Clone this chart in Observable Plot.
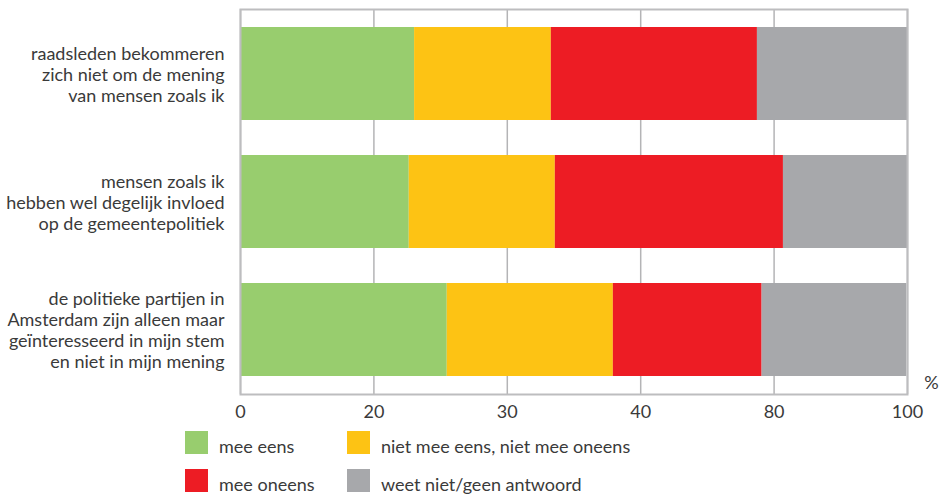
<!DOCTYPE html>
<html>
<head>
<meta charset="utf-8">
<script src="https://cdn.jsdelivr.net/npm/d3@7"></script>
<script src="https://cdn.jsdelivr.net/npm/@observablehq/plot@0.6"></script>
<style>
  body { margin: 0; background: #fff; font-family: Lato, "Open Sans", sans-serif; }
  #wrap { position: relative; width: 939px; height: 496px; }
  #legend { position: absolute; left: 185px; top: 431px; display: grid;
    grid-template-columns: 162px 300px; row-gap: 15px; font-size: 18px; color: #3a3a3a; }
  .item { display: flex; align-items: flex-end; height: 23px; }
  .sw { width: 23px; height: 23px; margin-right: 11px; flex: none; }
  .lab { line-height: 18px; position: relative; top: 1px; }
</style>
</head>
<body>
<div id="wrap"><div id="chart"></div><div id="legend"></div></div>
<script>
const statements = [
  "raadsleden bekommeren\nzich niet om de mening\nvan mensen zoals ik",
  "mensen zoals ik\nhebben wel degelijk invloed\nop de gemeentepolitiek",
  "de politieke partijen in\nAmsterdam zijn alleen maar\ngeïnteresseerd in mijn stem\nen niet in mijn mening"
];
const answers = ["mee eens", "niet mee eens, niet mee oneens", "mee oneens", "weet niet/geen antwoord"];
const colors = ["#98cd6e", "#fdc314", "#ed1c24", "#a7a8ab"];
const meeEens = [26.1, 25.3, 31.0];
const neutraal = [20.5, 21.9, 24.9];
const meeOneens = [30.9, 34.2, 22.3];
const weetNiet = [22.5, 18.6, 21.7];
const tickValues = [0, 20, 40, 60, 80, 100];
const tickLabels = ["0", "20", "30", "40", "80", "100"];

const series = [meeEens, neutraal, meeOneens, weetNiet];
const data = [];
statements.forEach((s, i) => answers.forEach((a, j) => data.push({statement: s, answer: a, value: series[j][i]})));

const chart = Plot.plot({
  width: 939,
  height: 496,
  marginLeft: 240,
  marginRight: 32,
  marginTop: 9,
  marginBottom: 102,
  style: {fontFamily: "Lato, 'Open Sans', sans-serif", fontSize: "18px", color: "#3a3a3a"},
  x: {domain: [0, 100], ticks: tickValues, tickFormat: d => tickLabels[tickValues.indexOf(d)], label: null},
  y: {domain: statements, paddingInner: 0.276, paddingOuter: 0.136, label: null},
  color: {domain: answers, range: colors},
  marks: [
    Plot.ruleX(tickValues, {stroke: "#b4b4b6", strokeWidth: 1.5, strokeOpacity: 1}),
    Plot.barX(data, Plot.stackX({y: "statement", x: "value", fill: "answer", order: answers})),
    Plot.frame({stroke: "#bdbdbf", strokeWidth: 2}),
    Plot.axisX({ticks: tickValues, tickFormat: d => tickLabels[tickValues.indexOf(d)], tickSize: 0, tickPadding: 11, fontSize: 18, label: null}),
    Plot.axisY({tickSize: 0, tickPadding: 16, fontSize: 18, lineHeight: 1.17, label: null}),
    Plot.text(["%"], {frameAnchor: "bottom-right", text: d => d, dx: 24, dy: -6, fontSize: 18, textAnchor: "middle"})
  ]
});
document.getElementById("chart").appendChild(chart);

const legend = document.getElementById("legend");
[0, 1, 2, 3].forEach(j => {
  const it = document.createElement("div");
  it.className = "item";
  it.innerHTML = `<span class="sw" style="background:${colors[j]}"></span><span class="lab">${answers[j]}</span>`;
  legend.appendChild(it);
});
</script>
</body>
</html>
